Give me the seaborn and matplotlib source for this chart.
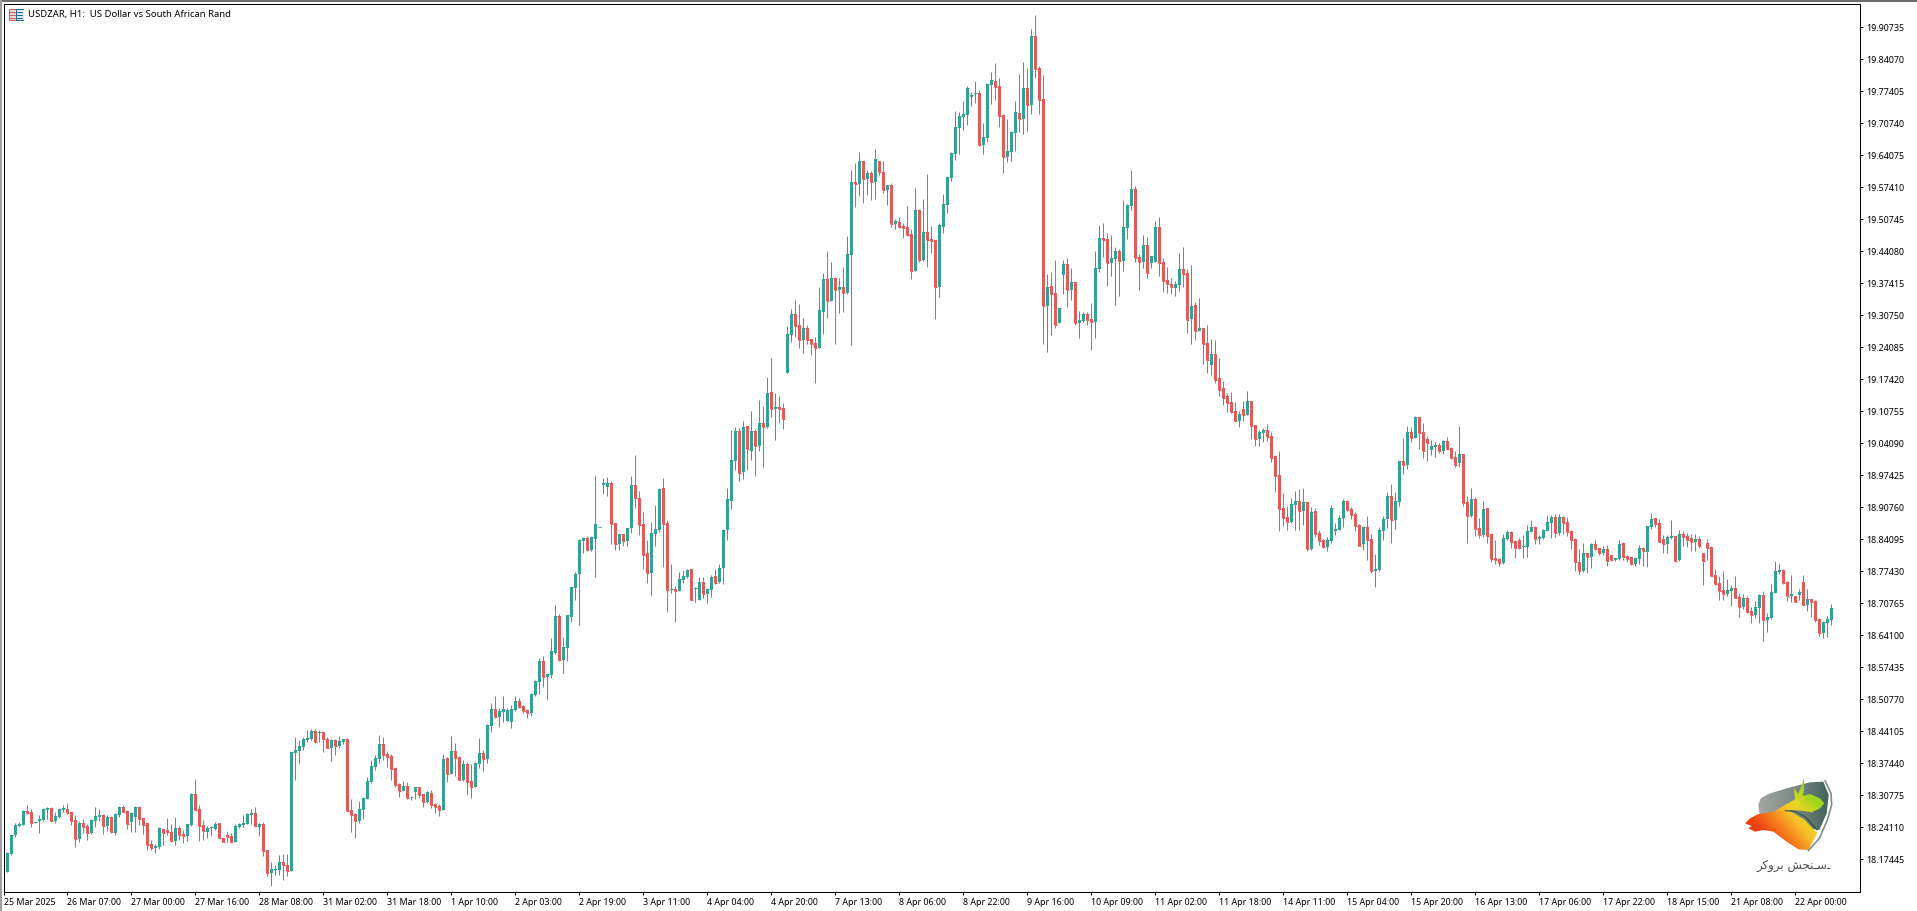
import numpy as np
import pandas as pd
import matplotlib
matplotlib.use('Agg')
import matplotlib.pyplot as plt
from matplotlib.colors import LinearSegmentedColormap
from matplotlib.patches import Polygon, Rectangle
from matplotlib.transforms import ScaledTranslation
import seaborn as sns

# USDZAR H1 candles
opens = [
    18.162,18.147,18.185,18.223,18.243,18.245,18.274,18.272,18.250,18.253,
    18.255,18.277,18.280,18.253,18.262,18.277,18.278,18.272,18.255,18.216,
    18.249,18.243,18.228,18.253,18.262,18.266,18.243,18.262,18.228,18.266,
    18.282,18.274,18.251,18.262,18.282,18.260,18.249,18.205,18.197,18.199,
    18.237,18.235,18.230,18.212,18.239,18.226,18.222,18.245,18.310,18.278,
    18.245,18.230,18.238,18.237,18.249,18.218,18.224,18.222,18.210,18.241,
    18.245,18.247,18.266,18.270,18.241,18.247,18.193,18.145,18.151,18.151,
    18.168,18.162,18.149,18.395,18.399,18.407,18.422,18.424,18.441,18.436,
    18.439,18.425,18.405,18.422,18.409,18.418,18.424,18.276,18.268,18.253,
    18.276,18.299,18.335,18.366,18.382,18.414,18.393,18.389,18.364,18.330,
    18.316,18.326,18.303,18.314,18.324,18.310,18.293,18.312,18.289,18.285,
    18.276,18.385,18.351,18.399,18.387,18.339,18.372,18.337,18.324,18.372,
    18.395,18.382,18.451,18.487,18.470,18.480,18.462,18.459,18.484,18.503,18.493,18.484,
    18.478,18.516,18.543,18.587,18.553,18.558,18.603,18.680,18.589,18.614,
    18.678,18.739,18.768,18.837,18.843,18.818,18.841,18.865,18.954,18.949,
    18.957,18.874,18.830,18.851,18.837,18.864,18.953,18.926,18.872,18.812,
    18.770,18.851,18.860,18.947,18.874,18.735,18.737,18.733,18.755,18.762,
    18.778,18.737,18.714,18.751,18.726,18.735,18.764,18.751,18.780,18.860,18.920,
    19.004,19.065,18.981,19.077,19.024,19.065,19.035,19.082,19.075,19.147,19.112,19.116,19.114,
    19.187,19.266,19.310,19.287,19.256,19.281,19.258,19.249,19.239,19.314,
    19.383,19.337,19.385,19.360,19.366,19.353,19.433,19.585,19.580,19.628,
    19.591,19.603,19.585,19.628,19.605,19.568,19.578,19.497,19.501,19.493,
    19.491,19.476,19.399,19.526,19.422,19.480,19.466,19.464,19.366,19.491,19.537,19.593,
    19.643,19.697,19.720,19.724,19.762,19.768,19.770,19.662,19.676,19.787,
    19.795,19.784,19.724,19.637,19.647,19.687,19.728,
    19.716,19.780,19.745,19.889,19.822,19.757,19.326,19.368,19.354,19.291,
    19.391,19.414,19.360,19.376,19.291,19.295,19.310,19.299,19.293,19.404,
    19.468,19.466,19.416,19.424,19.441,19.420,19.489,19.535,19.570,19.428,
    19.418,19.454,19.416,19.418,19.491,19.418,19.381,19.372,19.364,19.370,
    19.404,19.395,19.299,19.329,19.274,19.281,19.249,19.204,19.227,19.176,19.155,19.138,
    19.126,19.107,19.087,19.112,19.099,19.128,19.078,19.049,19.062,19.068,
    19.055,19.014,18.974,18.906,18.887,18.876,18.912,18.920,18.899,18.918,
    18.820,18.899,18.853,18.839,18.824,18.837,18.858,18.860,18.885,18.920,
    18.903,18.893,18.870,18.831,18.866,18.841,18.774,18.776,18.858,18.883,
    18.930,18.880,18.918,19.003,18.995,19.064,19.051,19.095,19.064,19.049,
    19.026,19.033,19.037,19.024,19.045,19.030,19.012,18.999,19.018,18.918,
    18.889,18.924,18.864,18.849,18.906,18.851,18.801,18.799,18.791,18.841,
    18.855,18.837,18.839,18.823,18.824,18.855,18.866,18.841,18.843,18.857,
    18.874,18.887,18.853,18.887,18.876,18.857,18.841,18.793,18.774,18.812,
    18.803,18.830,18.822,18.812,18.820,18.808,18.797,18.799,18.833,18.805,
    18.803,18.789,18.799,18.822,18.814,18.866,18.885,18.874,18.841,18.830,
    18.843,18.847,18.797,18.851,18.847,18.843,18.835,18.841,18.812,18.833,
    18.824,18.766,18.749,18.735,18.726,18.733,18.739,18.720,18.699,18.718,
    18.691,18.683,18.697,18.724,18.672,18.676,18.728,18.772,18.776,18.751,
    18.722,18.722,18.724,18.751,18.703,18.716,18.712,18.674,18.645,18.666,18.672,
]
highs = [
    18.163,18.189,18.224,18.248,18.252,18.276,18.287,18.278,18.251,18.266,
    18.280,18.282,18.282,18.272,18.280,18.287,18.291,18.272,18.266,18.253,
    18.257,18.247,18.257,18.282,18.278,18.268,18.266,18.264,18.270,18.285,
    18.287,18.276,18.272,18.285,18.285,18.260,18.249,18.214,18.205,18.241,
    18.237,18.260,18.247,18.262,18.243,18.235,18.247,18.312,18.341,18.287,
    18.255,18.243,18.243,18.251,18.249,18.218,18.230,18.228,18.247,18.249,
    18.266,18.270,18.278,18.282,18.249,18.251,18.193,18.168,18.162,18.183,
    18.185,18.185,18.397,18.428,18.422,18.428,18.443,18.445,18.445,18.443,
    18.439,18.428,18.424,18.424,18.430,18.424,18.426,18.299,18.270,18.295,
    18.303,18.345,18.380,18.391,18.432,18.428,18.399,18.393,18.366,18.332,
    18.337,18.335,18.305,18.324,18.324,18.310,18.316,18.318,18.291,18.289,
    18.393,18.387,18.430,18.416,18.389,18.380,18.376,18.372,18.376,18.426,
    18.401,18.455,18.499,18.514,18.489,18.514,18.489,18.495,18.514,18.509,18.495,18.486,
    18.520,18.547,18.593,18.597,18.562,18.635,18.703,18.685,18.637,18.683,
    18.741,18.772,18.841,18.845,18.847,18.847,18.974,18.866,18.968,18.970,
    18.961,18.874,18.851,18.851,18.864,18.972,19.016,18.941,18.897,18.839,
    18.876,18.912,18.947,18.968,18.880,18.789,18.743,18.772,18.776,18.778,
    18.778,18.741,18.762,18.762,18.739,18.766,18.778,18.789,18.862,18.947,19.068,
    19.075,19.072,19.087,19.077,19.108,19.070,19.131,19.118,19.178,19.218,19.145,19.139,19.124,
    19.285,19.320,19.339,19.331,19.301,19.287,19.258,19.262,19.366,19.395,
    19.441,19.418,19.387,19.385,19.408,19.472,19.610,19.624,19.647,19.628,
    19.610,19.607,19.653,19.628,19.628,19.578,19.582,19.507,19.512,19.499,
    19.535,19.487,19.572,19.528,19.549,19.601,19.493,19.464,19.499,19.560,19.597,19.647,
    19.732,19.730,19.753,19.784,19.772,19.795,19.776,19.707,19.791,19.814,
    19.832,19.801,19.726,19.716,19.691,19.753,19.809,
    19.835,19.822,19.903,19.932,19.826,19.807,19.393,19.397,19.422,19.322,
    19.422,19.426,19.406,19.376,19.316,19.314,19.314,19.333,19.441,19.495,
    19.499,19.479,19.474,19.449,19.445,19.547,19.539,19.610,19.576,19.435,
    19.474,19.470,19.431,19.503,19.512,19.426,19.408,19.385,19.379,19.437,
    19.449,19.404,19.412,19.335,19.343,19.281,19.287,19.258,19.256,19.218,19.169,19.145,
    19.147,19.126,19.107,19.128,19.149,19.128,19.078,19.068,19.072,19.080,
    19.064,19.016,19.024,18.937,18.910,18.926,18.941,18.945,18.947,18.918,
    18.908,18.906,18.860,18.841,18.845,18.912,18.874,18.891,18.924,18.922,
    18.908,18.897,18.872,18.868,18.889,18.851,18.810,18.866,18.889,18.939,
    18.955,18.939,19.003,19.051,19.076,19.074,19.097,19.095,19.082,19.055,
    19.047,19.043,19.041,19.047,19.053,19.033,19.024,19.076,19.018,18.930,
    18.947,18.928,18.885,18.920,18.906,18.851,18.839,18.801,18.851,18.860,
    18.857,18.839,18.843,18.849,18.870,18.880,18.868,18.849,18.862,18.891,
    18.891,18.893,18.893,18.889,18.887,18.860,18.843,18.820,18.833,18.812,
    18.833,18.839,18.822,18.826,18.828,18.808,18.801,18.839,18.835,18.807,
    18.805,18.803,18.828,18.824,18.868,18.895,18.885,18.882,18.849,18.849,
    18.880,18.847,18.860,18.857,18.853,18.851,18.851,18.847,18.812,18.841,
    18.826,18.778,18.764,18.774,18.758,18.745,18.764,18.728,18.726,18.722,
    18.699,18.712,18.726,18.733,18.687,18.747,18.795,18.791,18.778,18.753,
    18.766,18.722,18.737,18.766,18.737,18.716,18.714,18.676,18.670,18.680,18.705,
]
lows = [
    18.161,18.147,18.183,18.219,18.241,18.245,18.267,18.241,18.250,18.228,
    18.253,18.257,18.253,18.249,18.260,18.272,18.268,18.245,18.200,18.210,
    18.228,18.214,18.226,18.241,18.253,18.226,18.232,18.228,18.224,18.262,
    18.272,18.237,18.230,18.230,18.245,18.226,18.193,18.193,18.187,18.195,
    18.203,18.224,18.210,18.203,18.214,18.208,18.212,18.243,18.276,18.212,
    18.214,18.218,18.222,18.235,18.218,18.210,18.210,18.208,18.210,18.239,
    18.241,18.247,18.247,18.241,18.222,18.180,18.139,18.118,18.141,18.141,
    18.130,18.139,18.149,18.339,18.374,18.401,18.418,18.422,18.416,18.418,
    18.397,18.405,18.378,18.391,18.405,18.414,18.274,18.231,18.218,18.249,
    18.257,18.299,18.332,18.360,18.374,18.380,18.366,18.339,18.324,18.303,
    18.316,18.299,18.297,18.299,18.301,18.282,18.291,18.280,18.270,18.264,
    18.276,18.335,18.351,18.347,18.339,18.337,18.307,18.301,18.324,18.364,
    18.357,18.374,18.439,18.468,18.449,18.459,18.462,18.447,18.482,18.489,18.478,18.468,
    18.472,18.514,18.518,18.533,18.506,18.551,18.601,18.587,18.562,18.587,
    18.668,18.714,18.662,18.812,18.816,18.816,18.762,18.865,18.934,18.930,
    18.830,18.818,18.818,18.826,18.826,18.853,18.905,18.849,18.778,18.749,
    18.722,18.826,18.855,18.782,18.689,18.728,18.668,18.733,18.749,18.760,
    18.712,18.710,18.714,18.718,18.708,18.720,18.747,18.749,18.747,18.839,18.903,
    18.985,18.962,18.966,18.985,19.006,18.972,19.024,18.991,19.072,19.095,19.047,19.083,19.070,
    19.187,19.251,19.262,19.239,19.228,19.247,19.224,19.166,19.239,19.268,
    19.301,19.337,19.247,19.312,19.314,19.351,19.245,19.532,19.555,19.541,
    19.557,19.547,19.549,19.599,19.562,19.537,19.491,19.487,19.489,19.468,
    19.472,19.383,19.399,19.418,19.420,19.408,19.437,19.299,19.345,19.478,19.520,19.587,
    19.630,19.643,19.693,19.703,19.743,19.749,19.660,19.643,19.668,19.747,
    19.755,19.699,19.603,19.626,19.628,19.649,19.689,
    19.685,19.691,19.726,19.801,19.726,19.247,19.231,19.266,19.281,19.291,
    19.352,19.324,19.339,19.287,19.260,19.293,19.287,19.235,19.260,19.397,
    19.429,19.368,19.389,19.329,19.347,19.399,19.466,19.526,19.418,19.360,
    19.406,19.385,19.406,19.418,19.389,19.356,19.354,19.352,19.347,19.358,
    19.366,19.270,19.247,19.256,19.274,19.206,19.186,19.183,19.165,19.138,19.120,19.106,
    19.103,19.087,19.074,19.087,19.099,19.049,19.035,19.035,19.043,19.045,
    19.001,18.939,18.858,18.868,18.860,18.874,18.860,18.860,18.870,18.816,
    18.818,18.845,18.828,18.822,18.816,18.833,18.849,18.860,18.866,18.899,
    18.883,18.858,18.826,18.818,18.797,18.770,18.741,18.774,18.839,18.864,
    18.833,18.862,18.910,18.976,18.987,19.043,19.051,19.028,19.010,19.003,
    19.016,19.012,19.020,19.018,19.028,19.008,18.991,18.991,18.910,18.833,
    18.887,18.847,18.843,18.845,18.833,18.793,18.789,18.785,18.789,18.839,
    18.822,18.801,18.820,18.801,18.803,18.855,18.830,18.830,18.841,18.857,
    18.843,18.845,18.849,18.851,18.847,18.820,18.774,18.768,18.772,18.770,
    18.780,18.818,18.808,18.808,18.785,18.795,18.795,18.797,18.797,18.793,
    18.787,18.785,18.789,18.785,18.783,18.862,18.866,18.835,18.812,18.812,
    18.841,18.793,18.795,18.826,18.824,18.816,18.816,18.822,18.745,18.797,
    18.764,18.745,18.714,18.714,18.722,18.701,18.718,18.678,18.695,18.687,
    18.666,18.676,18.666,18.628,18.647,18.674,18.728,18.768,18.747,18.712,
    18.710,18.710,18.714,18.703,18.691,18.678,18.668,18.639,18.635,18.637,18.662,
]
closes = [
    18.162,18.187,18.224,18.245,18.247,18.274,18.270,18.249,18.251,18.257,
    18.278,18.280,18.253,18.264,18.278,18.280,18.270,18.253,18.216,18.249,
    18.241,18.228,18.255,18.264,18.266,18.243,18.262,18.230,18.268,18.282,
    18.272,18.247,18.270,18.282,18.257,18.245,18.203,18.196,18.201,18.239,
    18.228,18.230,18.212,18.239,18.224,18.222,18.247,18.310,18.276,18.243,
    18.232,18.239,18.240,18.247,18.218,18.210,18.220,18.210,18.243,18.247,
    18.249,18.268,18.270,18.243,18.247,18.191,18.145,18.153,18.153,18.168,
    18.162,18.149,18.397,18.401,18.409,18.424,18.426,18.441,18.418,18.439,
    18.424,18.405,18.422,18.409,18.420,18.424,18.274,18.266,18.253,18.278,
    18.301,18.337,18.368,18.385,18.414,18.391,18.387,18.362,18.328,18.316,
    18.326,18.301,18.304,18.324,18.307,18.293,18.314,18.287,18.282,18.276,
    18.382,18.351,18.399,18.385,18.339,18.372,18.335,18.324,18.374,18.395,
    18.382,18.453,18.487,18.470,18.482,18.487,18.484,18.487,18.503,18.491,18.482,18.478,
    18.518,18.545,18.587,18.553,18.560,18.608,18.680,18.589,18.616,18.683,
    18.741,18.768,18.839,18.843,18.818,18.845,18.872,18.865,18.957,18.957,
    18.872,18.830,18.851,18.837,18.864,18.953,18.926,18.870,18.807,18.770,
    18.853,18.862,18.945,18.872,18.735,18.736,18.733,18.758,18.764,18.776,
    18.714,18.739,18.751,18.726,18.737,18.762,18.749,18.780,18.860,18.924,19.005,
    19.065,18.979,19.074,19.029,19.065,19.035,19.082,19.074,19.145,19.112,19.116,19.112,19.091,
    19.268,19.310,19.285,19.256,19.281,19.256,19.247,19.239,19.318,19.383,
    19.337,19.385,19.360,19.366,19.353,19.435,19.585,19.580,19.628,19.591,
    19.603,19.585,19.632,19.605,19.568,19.578,19.497,19.503,19.491,19.489,
    19.474,19.399,19.526,19.422,19.480,19.464,19.462,19.366,19.495,19.539,19.595,19.645,
    19.699,19.722,19.726,19.780,19.766,19.770,19.662,19.678,19.789,19.797,
    19.782,19.722,19.637,19.649,19.689,19.730,19.716,
    19.780,19.745,19.889,19.820,19.755,19.326,19.366,19.352,19.287,19.322,
    19.414,19.360,19.376,19.291,19.297,19.310,19.297,19.293,19.406,19.468,
    19.464,19.416,19.426,19.441,19.420,19.491,19.537,19.570,19.426,19.418,
    19.454,19.395,19.431,19.491,19.416,19.379,19.372,19.366,19.372,19.404,
    19.393,19.297,19.326,19.274,19.281,19.247,19.214,19.227,19.172,19.152,19.134,19.125,
    19.105,19.087,19.101,19.099,19.128,19.076,19.049,19.064,19.068,19.053,
    19.010,18.972,18.904,18.885,18.876,18.914,18.920,18.899,18.918,18.820,
    18.897,18.851,18.837,18.824,18.839,18.906,18.862,18.885,18.920,18.901,
    18.891,18.868,18.826,18.866,18.839,18.774,18.779,18.860,18.883,18.930,
    18.880,18.920,19.003,18.995,19.064,19.051,19.095,19.062,19.024,19.041,
    19.035,19.037,19.024,19.045,19.028,19.010,18.995,19.018,18.916,18.889,
    18.924,18.862,18.849,18.903,18.847,18.799,18.797,18.791,18.843,18.855,
    18.835,18.822,18.822,18.826,18.858,18.866,18.841,18.845,18.860,18.876,
    18.887,18.853,18.887,18.874,18.855,18.839,18.793,18.774,18.812,18.803,
    18.830,18.820,18.812,18.820,18.795,18.797,18.801,18.830,18.803,18.799,
    18.789,18.801,18.822,18.816,18.868,18.882,18.872,18.835,18.830,18.845,
    18.847,18.795,18.851,18.845,18.839,18.835,18.841,18.826,18.795,18.822,
    18.764,18.747,18.733,18.726,18.735,18.739,18.718,18.699,18.718,18.689,
    18.683,18.699,18.724,18.672,18.678,18.730,18.774,18.776,18.749,18.722,
    18.726,18.710,18.730,18.703,18.716,18.710,18.672,18.645,18.668,18.674,18.697,
]

date_labels = ['25 Mar 2025', '26 Mar 07:00', '27 Mar 00:00', '27 Mar 16:00', '28 Mar 08:00',
               '31 Mar 02:00', '31 Mar 18:00', '1 Apr 10:00', '2 Apr 03:00', '2 Apr 19:00',
               '3 Apr 11:00', '4 Apr 04:00', '4 Apr 20:00', '7 Apr 13:00', '8 Apr 06:00',
               '8 Apr 22:00', '9 Apr 16:00', '10 Apr 09:00', '11 Apr 02:00', '11 Apr 18:00',
               '14 Apr 11:00', '15 Apr 04:00', '15 Apr 20:00', '16 Apr 13:00', '17 Apr 06:00',
               '17 Apr 22:00', '18 Apr 15:00', '21 Apr 08:00', '22 Apr 00:00']
price_labels = ['19.90735', '19.84070', '19.77405', '19.70740', '19.64075', '19.57410', '19.50745',
                '19.44080', '19.37415', '19.30750', '19.24085', '19.17420', '19.10755', '19.04090',
                '18.97425', '18.90760', '18.84095', '18.77430', '18.70765', '18.64100', '18.57435',
                '18.50770', '18.44105', '18.37440', '18.30775', '18.24110', '18.17445']

W, H = 1917, 911
UP = '#33A193'
DOWN = '#E25A5A'

sns.set_style('white')
plt.rcParams['font.family'] = ['Noto Sans', 'DejaVu Sans']


def box(x0, y0, x1, y1):
    # figure fractions from pixels measured from the top left
    return [x0 / W, 1 - y1 / H, (x1 - x0) / W, (y1 - y0) / H]


df = pd.DataFrame({'open': opens, 'high': highs, 'low': lows, 'close': closes})
df['bar'] = df.index
df['up'] = df['close'] >= df['open']
df['bottom'] = df[['open', 'close']].min(axis=1)
df['height'] = (df['open'] - df['close']).abs()

fig = plt.figure(figsize=(W / 100, H / 100), dpi=100, facecolor='white')
ax = fig.add_axes(box(3.5, 3.5, 1859.5, 891.5))

for is_up, colour in [(True, UP), (False, DOWN)]:
    part = df[df['up'] == is_up]
    ax.vlines(part['bar'], part['low'], part['high'], color=colour, linewidth=0.72, zorder=1)
    ax.hlines(part['close'], part['bar'] - 0.4, part['bar'] + 0.4, color=colour, linewidth=0.72, zorder=1)
    sns.barplot(data=part, x='bar', y='height', bottom=part['bottom'].values, native_scale=True,
                color=colour, saturation=1, width=0.75, linewidth=0, errorbar=None, ax=ax, zorder=2)

ax.set_xlim(0.05, 464.05)
ax.set_ylim(18.1063, 19.9563)
ax.set_xlabel('')
ax.set_ylabel('')

ax.set_xticks(np.arange(len(date_labels)) * 16)
ax.set_xticklabels(date_labels, ha='left', fontsize=6.4)
ax.set_yticks([float(p) for p in price_labels])
ax.set_yticklabels(price_labels, fontsize=6.4)
ax.yaxis.tick_right()
ax.tick_params(axis='x', bottom=True, length=2.5, width=0.72, pad=2, color='black', labelcolor='black')
ax.tick_params(axis='y', right=True, left=False, length=2.5, width=0.72, pad=2.2, color='black', labelcolor='black')
for spine in ax.spines.values():
    spine.set_color('black')
    spine.set_linewidth(0.72)
    spine.set_visible(True)

# labels sit about a pixel low against the tick
shift = ScaledTranslation(0, -0.8 / 100, fig.dpi_scale_trans)
for label in ax.get_yticklabels():
    label.set_transform(label.get_transform() + shift)

# window chrome
fig.add_artist(Rectangle((0, 1 - 2 / H), 1, 2 / H, transform=fig.transFigure, color='#6e6e6e', lw=0))
fig.add_artist(Rectangle((0, 0), 1.5 / W, 1, transform=fig.transFigure, color='#a0a0a0', lw=0))

fig.text(28.3 / W, 1 - 14.7 / H, 'USDZAR, H1:  US Dollar vs South African Rand',
         fontsize=6.85, va='center', ha='left', color='black')

# small chart icon next to the title
icon = fig.add_axes(box(8, 8, 24, 21))
icon.set_xlim(0, 16)
icon.set_ylim(13, 0)
icon.axis('off')
icon.add_patch(Rectangle((0.5, 0.5), 7.5, 11.5, fc='#f6d9d4', ec='#cf5a4b', lw=0.72))
icon.add_patch(Rectangle((8, 0.5), 7.5, 11.5, fc='#d9e8f4', ec='#1f6d9c', lw=0.72))
for yy in [3.5, 6.5, 9.5]:
    icon.plot([2, 7], [yy, yy], color='#cf5a4b', lw=0.72)
    icon.plot([9, 14], [yy, yy], color='#1f6d9c', lw=0.72)

# watermark logo, drawn in 3x pixels of its own box
logo = fig.add_axes(box(1730, 770, 1850, 870), zorder=5)
logo.set_xlim(0, 360)
logo.set_ylim(300, 0)
logo.axis('off')

xx, yy = np.meshgrid(np.linspace(0, 360, 240), np.linspace(0, 300, 200))
shield_img = logo.imshow((xx - 85) / 220, extent=(0, 360, 300, 0), aspect='auto', vmin=0, vmax=1, zorder=1,
                         cmap=LinearSegmentedColormap.from_list('shield', ['#a3a7a3', '#7b8a85', '#3f5f58']))
shield = Polygon([(85, 105), (92, 85), (115, 72), (170, 55), (240, 37), (280, 35), (296, 75), (290, 130),
                  (268, 180), (200, 170), (88, 130)], transform=logo.transData, fc='none', ec='none')
logo.add_patch(shield)
shield_img.set_clip_path(shield)

body_map = LinearSegmentedColormap.from_list(
    'body', [(0, '#e8300c'), (0.2, '#f04a14'), (0.35, '#f5821e'), (0.5, '#f7c02a'), (0.62, '#e6d622'),
             (0.78, '#9ed81e'), (1, '#7fcf10')])
body_img = logo.imshow(0.62 * (xx - 45) / 240 + 0.38 * (200 - yy) / 170, extent=(0, 360, 300, 0), aspect='auto',
                       vmin=0, vmax=1, cmap=body_map, zorder=2)
body = Polygon([(45, 160), (60, 145), (85, 132), (130, 125), (165, 105), (195, 88), (192, 55), (205, 72),
                (215, 45), (222, 25), (222, 60), (218, 78), (240, 72), (270, 85), (283, 100), (270, 115),
                (245, 127), (215, 122), (175, 120), (225, 150), (262, 190), (235, 240), (205, 238),
                (170, 215), (130, 185), (100, 180), (75, 185), (55, 175), (65, 168)],
               transform=logo.transData, fc='none', ec='none')
logo.add_patch(body)
body_img.set_clip_path(body)
logo.plot([165, 195, 225, 262], [122, 124, 140, 180], color='#2f4f3f', lw=0.8, zorder=3)
logo.plot([285, 303, 305, 292, 268, 235], [32, 70, 105, 150, 205, 242], color='#7e8e89', lw=1.2, zorder=3)
logo.text(190, 285, '\uFEAE\uFB90\uFEED\uFEAE\uFE91 \uFEB6\uFEA0\uFEE8\u0640\uFEB3\u0640', fontsize=8.5, ha='center', va='center',
          color='#4a4a4a', family=['DejaVu Sans'], zorder=3)

fig.savefig('out.png', dpi=100)
